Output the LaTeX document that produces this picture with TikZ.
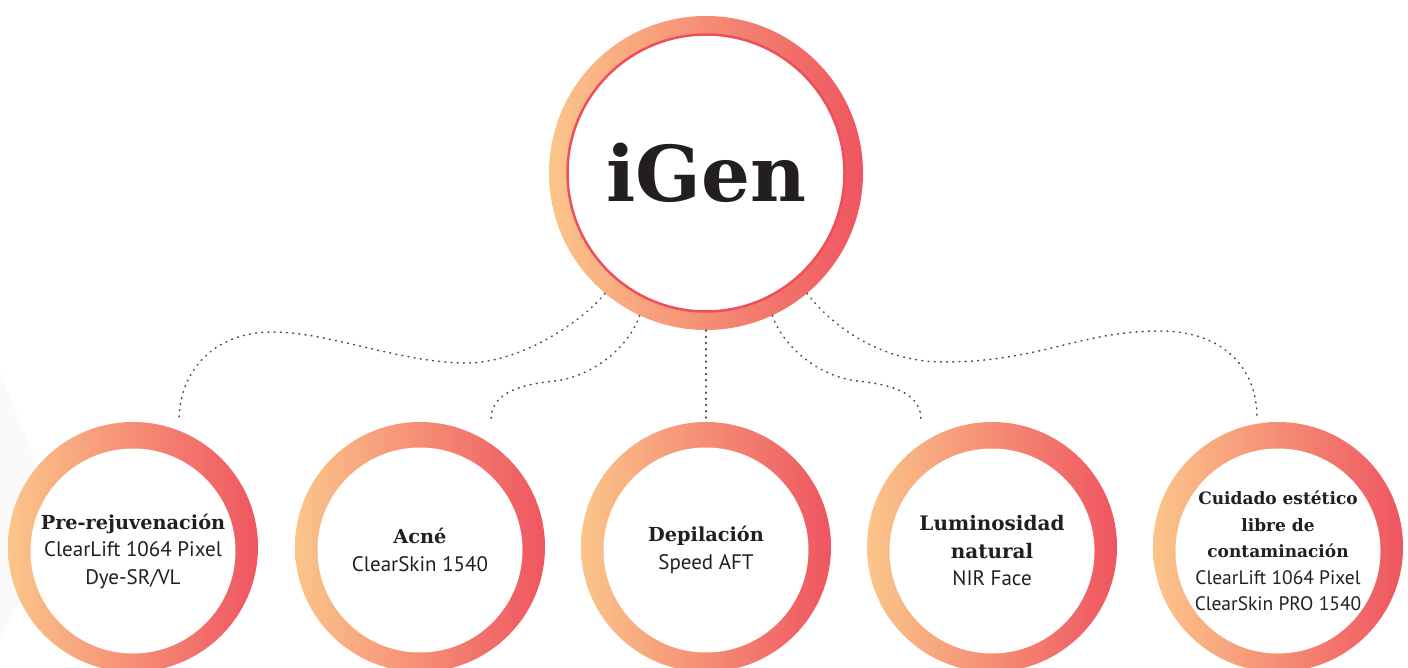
\documentclass[tikz,border=0pt]{standalone}
\usepackage{fontspec}
\setmainfont{PT Sans}
\newfontfamily\headfont{DejaVu Serif}
\definecolor{ringleft}{HTML}{FBC58A}
\definecolor{ringright}{HTML}{EF5560}
\definecolor{ringline}{HTML}{EE4F5B}
\definecolor{inktext}{HTML}{231F20}
\definecolor{linkgray}{HTML}{4A4A4C}
\newcommand{\cattitle}[2][19.3]{{\headfont\bfseries\fontsize{#1}{27}\selectfont #2}}
\begin{document}
\begin{tikzpicture}
		[x=1pt, y=-1pt,
		ring/.style={circle,inner sep=0pt,left color=ringleft,right color=ringright,minimum size=250pt},
		hole/.style={circle,fill=white,inner sep=0pt,minimum size=205pt,align=center,text=inktext,font=\fontsize{21}{27.5}\selectfont},
		link/.style={draw=linkgray,line width=1.5pt,dash pattern=on 0.9pt off 5.3pt,line cap=round}]
		\useasboundingbox (0,0) rectangle (1408,668);
		\fill[black!2] (0,372) -- (60,520) -- (0,640) -- cycle;

		% Main circle
		\node [ring,minimum size=314pt] (igen) at (706,173) {};
		\node [hole,draw=ringline,line width=2.5pt,minimum size=277pt,font=\headfont\bfseries\fontsize{77}{77}\selectfont] (igentitle) at (igen) {iGen};

		% Treatment circles
		\node [ring] (pre) at (133,547) {};
		\node [hole,yshift=-4pt] (pretext) at (pre) {\cattitle{Pre-rejuvenación}\\ClearLift 1064 Pixel\\Dye-SR/VL};
		\node [ring] (acne) at (420,547) {};
		\node [hole,yshift=-3pt] (acnetext) at (acne) {\cattitle{Acné}\\ClearSkin 1540};
		\node [ring] (depil) at (706,547) {};
		\node [hole,yshift=-3pt] (depiltext) at (depil) {\cattitle{Depilación}\\Speed AFT};
		\node [ring] (lumin) at (992,547) {};
		\node [hole,yshift=-4pt] (lumintext) at (lumin) {\cattitle[20]{Luminosidad}\\\cattitle[20]{natural}\\NIR Face};
		\node [ring] (cuidado) at (1278,547) {};
		\node [hole,yshift=-4pt,font=\fontsize{19.5}{26.5}\selectfont] (cuidadotext) at (cuidado) {\cattitle[17]{Cuidado estético}\\\cattitle[17]{libre de}\\\cattitle[17]{contaminación}\\ClearLift 1064 Pixel\\ClearSkin PRO 1540};

		% Connector ends
		\coordinate (preend) at (179,421);
		\coordinate (acneend) at (491,420);
		\coordinate (depilend) at (706,421);
		\coordinate (luminend) at (921,420);
		\coordinate (cuidadoend) at (1257,417);

		% Dotted connectors
		\draw[link] (igen.230) .. controls (582,322) and (520,363) .. (467,363) .. controls (400,363) and (330,332) .. (272,332) .. controls (215,332) and (179,370) .. (preend);
		\draw[link] (igen.245) .. controls (630,345) and (595,376) .. (555,381) .. controls (515,385) and (491,395) .. (acneend);
		\draw[link] (igen.south) -- (depilend);
		\draw[link] (igen.-65) .. controls (782,345) and (817,376) .. (857,381) .. controls (897,385) and (921,395) .. (luminend);
		\draw[link] (igen.-50) .. controls (835,330) and (885,362) .. (943,362) .. controls (1040,362) and (1080,331) .. (1160,331) .. controls (1225,331) and (1257,370) .. (cuidadoend);
	\end{tikzpicture}
\end{document}
